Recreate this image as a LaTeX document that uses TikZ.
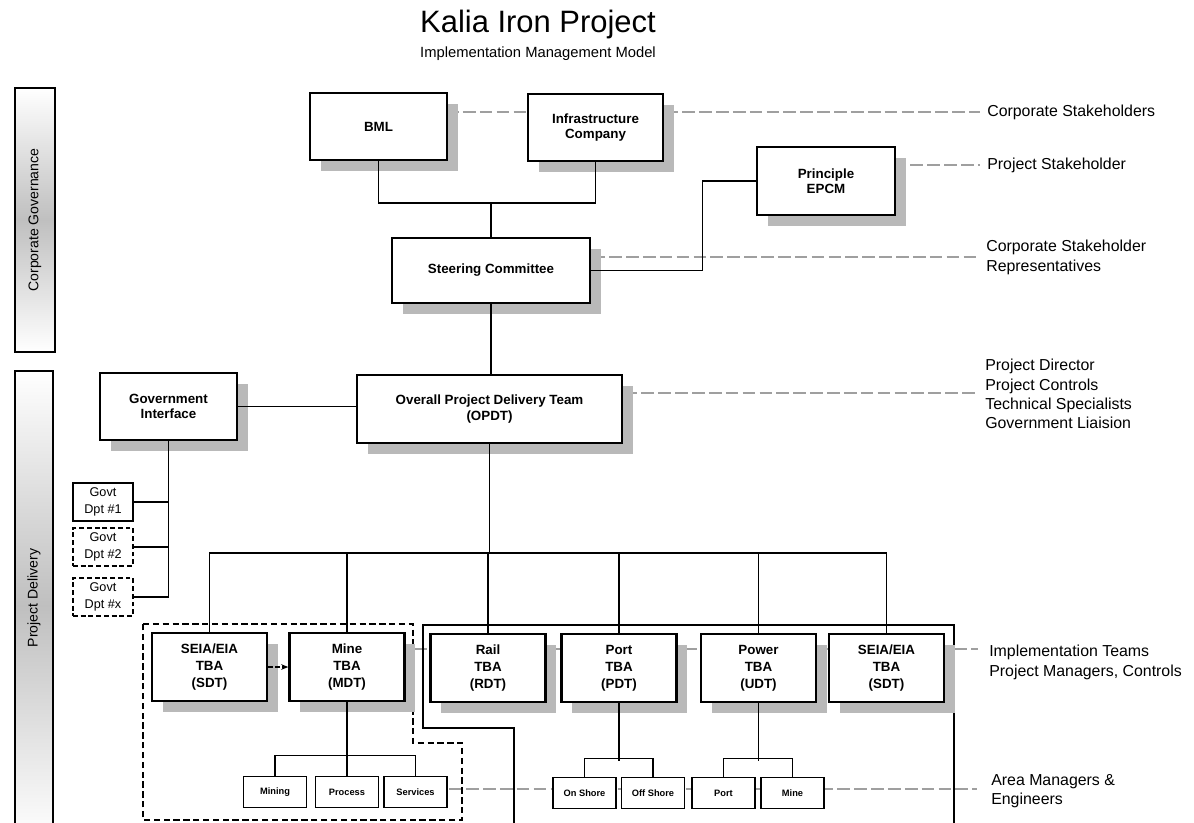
\documentclass[tikz,border=0pt]{standalone}
\usepackage{fontspec}
\setmainfont{Liberation Sans}
\usetikzlibrary{shadows,arrows.meta,backgrounds}
\begin{document}
\begin{tikzpicture}[x=0.025cm,y=-0.025cm,
  shd/.style={drop shadow={shadow xshift=7.5pt,shadow yshift=-8pt,fill=gray!55,opacity=1}},
  mainbox/.style={draw,line width=1.8pt,fill=white,align=center,inner sep=0pt,shd,
    font=\fontsize{9.5}{11}\selectfont\bfseries},
  teambox/.style={mainbox,minimum width=2.875cm,minimum height=1.7cm,
    font=\fontsize{9.5}{12}\selectfont\bfseries},
  subbox/.style={draw,line width=1.3pt,fill=white,inner sep=0pt,minimum width=1.575cm,
    minimum height=0.775cm,font=\fontsize{6.6}{8}\selectfont\bfseries},
  govbox/.style={draw,line width=0.9pt,fill=white,align=center,inner sep=0pt,
    minimum width=1.5cm,minimum height=0.95cm,font=\fontsize{9}{12}\selectfont},
  govdash/.style={govbox,dash pattern=on 3.5pt off 2pt,line width=1.1pt},
  conn/.style={line width=1.1pt},
  dline/.style={draw=gray!75,line width=0.8pt,dash pattern=on 9pt off 3pt},
  lbl/.style={anchor=west,inner sep=0pt,align=left,font=\fontsize{11.3}{13.7}\selectfont},
  sidebar/.style={draw,line width=1.2pt,top color=white,bottom color=white,middle color=gray!50},
  sidetext/.style={rotate=90,font=\fontsize{10}{12}\selectfont}
]
\useasboundingbox (0,0) rectangle (1194,822);
\clip (0,0) rectangle (1194,822);

% title
\node[font=\fontsize{22}{26}\selectfont] (title) at (538,25) {Kalia Iron Project};
\node[font=\fontsize{10.5}{12}\selectfont] (subtitle) at (538,54) {Implementation Management Model};

% side bars
\draw[sidebar] (15,88) rectangle (55,352);
\node[sidetext] (cgt) at (35,220) {Corporate Governance};
\draw[sidebar] (15,371) rectangle (53,840);
\node[sidetext] (pdt) at (34,598) {Project Delivery};

% group outlines
\draw[line width=1pt] (514,840) -- (514,728) -- (423,728) -- (423,625) -- (954,625) -- (954,840);
\draw[line width=1.4pt,dash pattern=on 4.5pt off 2.5pt] (143,624) -- (413,624) -- (413,743) -- (462,743) -- (462,820) -- (143,820) -- cycle;

% main boxes
\node[mainbox,minimum width=3.425cm,minimum height=1.675cm] (bml) at (378.5,126.5) {BML};
\node[mainbox,minimum width=3.375cm,minimum height=1.675cm] (infra) at (595.5,127.5) {Infrastructure\\Company};
\node[mainbox,minimum width=3.45cm,minimum height=1.7cm] (epcm) at (826,181) {Principle\\EPCM};
\node[mainbox,minimum width=4.95cm,minimum height=1.625cm] (steer) at (491,270.5) {Steering Committee};
\node[mainbox,minimum width=3.425cm,minimum height=1.675cm] (gi) at (168.5,406.5) {Government\\Interface};
\node[mainbox,minimum width=6.625cm,minimum height=1.7cm] (opdt) at (489.5,409) {Overall Project Delivery Team\\(OPDT)};

% government departments
\node[govbox] (g1) at (103,502) {Govt\\Dpt \#1};
\node[govdash] (g2) at (103,547) {Govt\\Dpt \#2};
\node[govdash] (gx) at (103,597) {Govt\\Dpt \#x};

% team boxes
\node[teambox] (seia1) at (209.5,667) {SEIA/EIA\\TBA\\(SDT)};
\node[teambox] (mine) at (347,667) {Mine\\TBA\\(MDT)};
\node[teambox] (rail) at (488,668) {Rail\\TBA\\(RDT)};
\node[teambox] (port) at (619,668) {Port\\TBA\\(PDT)};
\node[teambox] (power) at (758.5,668) {Power\\TBA\\(UDT)};
\node[teambox] (seia2) at (886.5,668) {SEIA/EIA\\TBA\\(SDT)};

% sub boxes
\node[subbox] (mining) at (275,792) {Mining};
\node[subbox] (process) at (347,792) {Process};
\node[subbox] (services) at (415.5,792) {Services};
\node[subbox] (onshore) at (584.5,793) {On Shore};
\node[subbox] (offshore) at (653,793) {Off Shore};
\node[subbox] (sport) at (723.5,793) {Port};
\node[subbox] (smine) at (792.5,793) {Mine};

% right labels
\node[lbl] (lcs) at (987,112) {Corporate Stakeholders};
\node[lbl] (lps) at (987,165) {Project Stakeholder};
\node[lbl] (lcr) at (986,257.5) {Corporate Stakeholder\\Representatives};
\node[lbl] (ldir) at (985,394) {Project Director\\Project Controls\\Technical Specialists\\Government Liaision};
\node[lbl] (limp) at (989,662.5) {Implementation Teams\\Project Managers, Controls};
\node[lbl] (lam) at (991,791) {Area Managers \&\\Engineers};
\coordinate (impl) at (978,649);
\coordinate (area) at (977,789);

% dashed reference lines (behind boxes)
\begin{scope}[on background layer]
\draw[dline] (bml.center |- lcs.west) -- ([xshift=-5pt]lcs.west);
\draw[dline] (epcm.center |- 0,165) -- ([xshift=-5pt]lps.west);
\draw[dline] (steer.center |- 0,257) -- ([xshift=-5pt]lcr.west |- 0,257);
\draw[dline] (opdt.center |- 0,393) -- ([xshift=-6pt]ldir.west |- 0,393);
\draw[dline] (mine.center |- impl) -- (impl);
\draw[dline] (services.center |- area) -- (area);
\end{scope}

% connectors
\coordinate (j1) at (491,203);
\draw[conn] (bml.south) |- (j1) -| (infra.south);
\draw[conn] (j1) -- (steer.north);
\draw[conn] (steer.east) -- ++(111,0) |- (epcm.west);
\draw[conn] (steer.south) -- (steer.south |- opdt.north);
\draw[conn] (gi.east) -- (gi.east -| opdt.west);
\draw[conn] (gi.south) -- (gi.south |- gx.east) -- (gx.east);
\draw[conn] (gi.south |- g1.east) -- (g1.east);
\draw[conn] (gi.south |- g2.east) -- (g2.east);

\coordinate (bus) at (489.5,553);
\draw[conn] (opdt.south) -- (bus);
\draw[conn] (seia1.north) |- (seia2.north |- bus) -- (seia2.north);
\foreach \n in {mine,rail,port,power} \draw[conn] (\n.north) -- (\n.north |- bus);

\draw[conn] (mine.south) -- (process.north);
\draw[conn] (mining.north) -- ++(0,-20) -| (services.north);
\draw[conn] (port.south) -- ++(0,58);
\draw[conn] (onshore.north) -- ++(0,-18) -| (offshore.north);
\draw[conn] (power.south) -- ++(0,58);
\draw[conn] (sport.north) -- ++(0,-18) -| (smine.north);

\draw[line width=1pt,dash pattern=on 3pt off 2pt,-{Stealth[length=5pt,width=4pt]}] (seia1.east) -- (mine.west);
\end{tikzpicture}
\end{document}
